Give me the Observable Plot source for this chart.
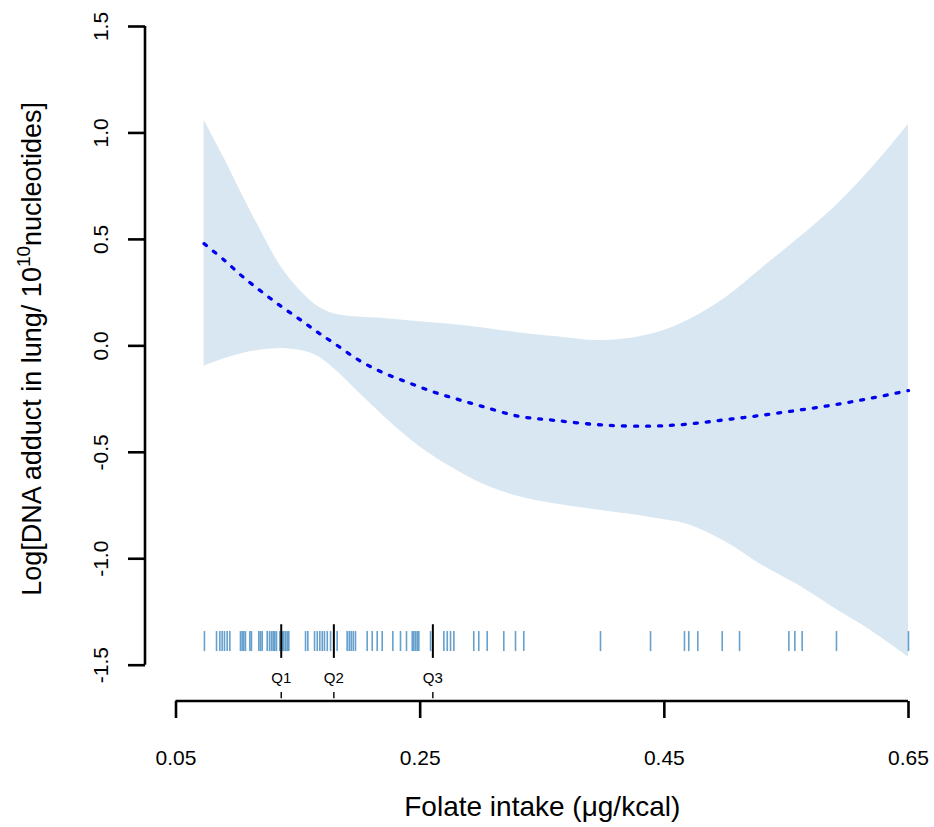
<!DOCTYPE html>
<html><head><meta charset="utf-8">
<script src="https://cdn.jsdelivr.net/npm/d3@7"></script>
<script src="https://cdn.jsdelivr.net/npm/@observablehq/plot@0.6"></script>
<style>body{margin:0;background:#fff} #chart{width:934px;height:827px}</style>
</head><body><div id="chart"></div>
<script>
// Folate intake grid (µg/kcal) and spline estimates
const folate  = [0.073, 0.09, 0.105, 0.12, 0.135, 0.15, 0.165, 0.18, 0.2, 0.22, 0.24, 0.26, 0.28, 0.30, 0.33, 0.36, 0.40, 0.44, 0.47, 0.50, 0.53, 0.56, 0.59, 0.62, 0.65];
const fitLog  = [0.48, 0.40, 0.323, 0.255, 0.19, 0.13, 0.068, 0.01, -0.068, -0.127, -0.172, -0.215, -0.25, -0.283, -0.33, -0.35, -0.372, -0.377, -0.367, -0.347, -0.326, -0.302, -0.276, -0.245, -0.21];
const lowerCI = [-0.096, -0.06, -0.035, -0.02, -0.012, -0.02, -0.045, -0.11, -0.22, -0.33, -0.43, -0.515, -0.585, -0.645, -0.707, -0.742, -0.775, -0.807, -0.84, -0.92, -1.03, -1.125, -1.235, -1.34, -1.462];
const upperCI = [1.06, 0.875, 0.70, 0.535, 0.38, 0.27, 0.19, 0.15, 0.135, 0.128, 0.118, 0.108, 0.098, 0.085, 0.062, 0.044, 0.025, 0.056, 0.122, 0.225, 0.365, 0.505, 0.655, 0.835, 1.04];

// Observed folate intakes (rug)
const rugFolate = [0.0733, 0.0832, 0.0859, 0.0878, 0.0897, 0.0919, 0.0941, 0.1028, 0.1042, 0.1055, 0.1069, 0.1105, 0.1118, 0.1178, 0.1192, 0.1206, 0.1247, 0.1266, 0.1282, 0.1296, 0.1309, 0.1323, 0.1350, 0.1370, 0.1383, 0.1397, 0.1411, 0.1424, 0.1561, 0.1580, 0.1635, 0.1657, 0.1678, 0.1698, 0.1716, 0.1739, 0.1766, 0.1820, 0.1902, 0.1919, 0.1935, 0.1952, 0.1970, 0.2066, 0.2107, 0.2148, 0.2189, 0.2276, 0.2339, 0.2388, 0.2435, 0.2448, 0.2462, 0.2476, 0.2489, 0.2585, 0.2694, 0.2722, 0.2749, 0.2776, 0.2939, 0.2980, 0.3049, 0.3185, 0.3281, 0.3349, 0.3977, 0.4387, 0.4665, 0.4700, 0.4774, 0.4974, 0.5116, 0.5520, 0.5569, 0.5629, 0.5910, 0.6500];

const quartiles = [0.1362, 0.1793, 0.2604];
const quartileLabels = ["Q1", "Q2", "Q3"];
const xTicks = [0.05, 0.25, 0.45, 0.65];
const yTicks = [-1.5, -1.0, -0.5, 0.0, 0.5, 1.0, 1.5];
const xTitle = "Folate intake (μg/kcal)";
const yTitleParts = ["Log[DNA adduct in lung/ 10", "10", "nucleotides]"];

const curve = folate.map((x, i) => ({x, fit: fitLog[i], lo: lowerCI[i], hi: upperCI[i]}));
const qData = quartiles.map((x, i) => ({x, label: quartileLabels[i]}));

const axisLines = (index, scales, values, dims) => {
  const g = d3.create("svg:g").attr("stroke", "black").attr("stroke-width", 2.6).attr("fill", "none");
  const yb = dims.height - dims.marginBottom;
  const [xa, xb] = d3.extent(xTicks).map(scales.x);
  g.append("line").attr("x1", xa).attr("x2", xb).attr("y1", yb).attr("y2", yb);
  const [ya, yb2] = d3.extent(yTicks).map(scales.y);
  g.append("line").attr("x1", dims.marginLeft).attr("x2", dims.marginLeft).attr("y1", ya).attr("y2", yb2);
  return g.node();
};

const plot = Plot.plot({
  width: 934,
  height: 827,
  marginLeft: 145,
  marginRight: 26,
  marginTop: 26,
  marginBottom: 126,
  style: {fontFamily: "'Liberation Sans', Arial, sans-serif", background: "#fff", color: "black"},
  x: {domain: d3.extent(xTicks), insetLeft: 30.5, axis: null},
  y: {domain: d3.extent(yTicks), insetBottom: 36.3, axis: null},
  marks: [
    Plot.areaY(curve, {x: "x", y1: "lo", y2: "hi", fill: "#d8e7f1", curve: "catmull-rom"}),
    Plot.line(curve, {x: "x", y: "fit", stroke: "#0000ee", strokeWidth: 3.3, strokeDasharray: "3,9", strokeLinecap: "round", curve: "catmull-rom"}),
    Plot.ruleX(rugFolate, {x: d => d, y1: -1.342, y2: -1.436, stroke: "#2b7bba", strokeOpacity: 0.72, strokeWidth: 1.6}),
    Plot.ruleX(qData, {x: "x", y1: -1.31, y2: -1.468, stroke: "black", strokeWidth: 2}),
    Plot.ruleX(qData, {x: "x", y1: -1.628, y2: -1.657, stroke: "black", strokeWidth: 1.4}),
    Plot.text(qData, {x: "x", text: "label", frameAnchor: "bottom", dy: -23, lineAnchor: "middle", fontSize: 15}),
    axisLines,
    Plot.axisX({ticks: xTicks, tickSize: 17, tickPadding: 32, tickFormat: d => d.toFixed(2), strokeWidth: 2.6, fontSize: 21, label: null}),
    Plot.axisY({ticks: yTicks, tickSize: 17, tickPadding: 21, tickRotate: -90, textAnchor: "middle", lineAnchor: "bottom", tickFormat: d => d.toFixed(1), strokeWidth: 2.6, fontSize: 21, label: null}),
    Plot.text([xTitle], {x: [d3.mean(xTicks)], text: d => d, frameAnchor: "bottom", dy: 114, lineAnchor: "bottom", textAnchor: "middle", fontSize: 28}),
    Plot.text([yTitleParts.join("")], {y: [d3.mean(d3.extent(yTicks))], text: d => d, frameAnchor: "left", dx: -105, dy: 3, rotate: -90, lineAnchor: "bottom", textAnchor: "middle", fontSize: 27, className: "ytitle"})
  ]
});

document.getElementById("chart").appendChild(plot);

// superscript in y title
const yt = plot.querySelector(".ytitle text");
if (yt) {
  yt.textContent = "";
  const t = d3.select(yt);
  t.append("tspan").text(yTitleParts[0]);
  t.append("tspan").attr("dy", "-11").attr("font-size", "19").text(yTitleParts[1]);
  t.append("tspan").attr("dy", "11").text(yTitleParts[2]);
}
</script>
</body></html>
